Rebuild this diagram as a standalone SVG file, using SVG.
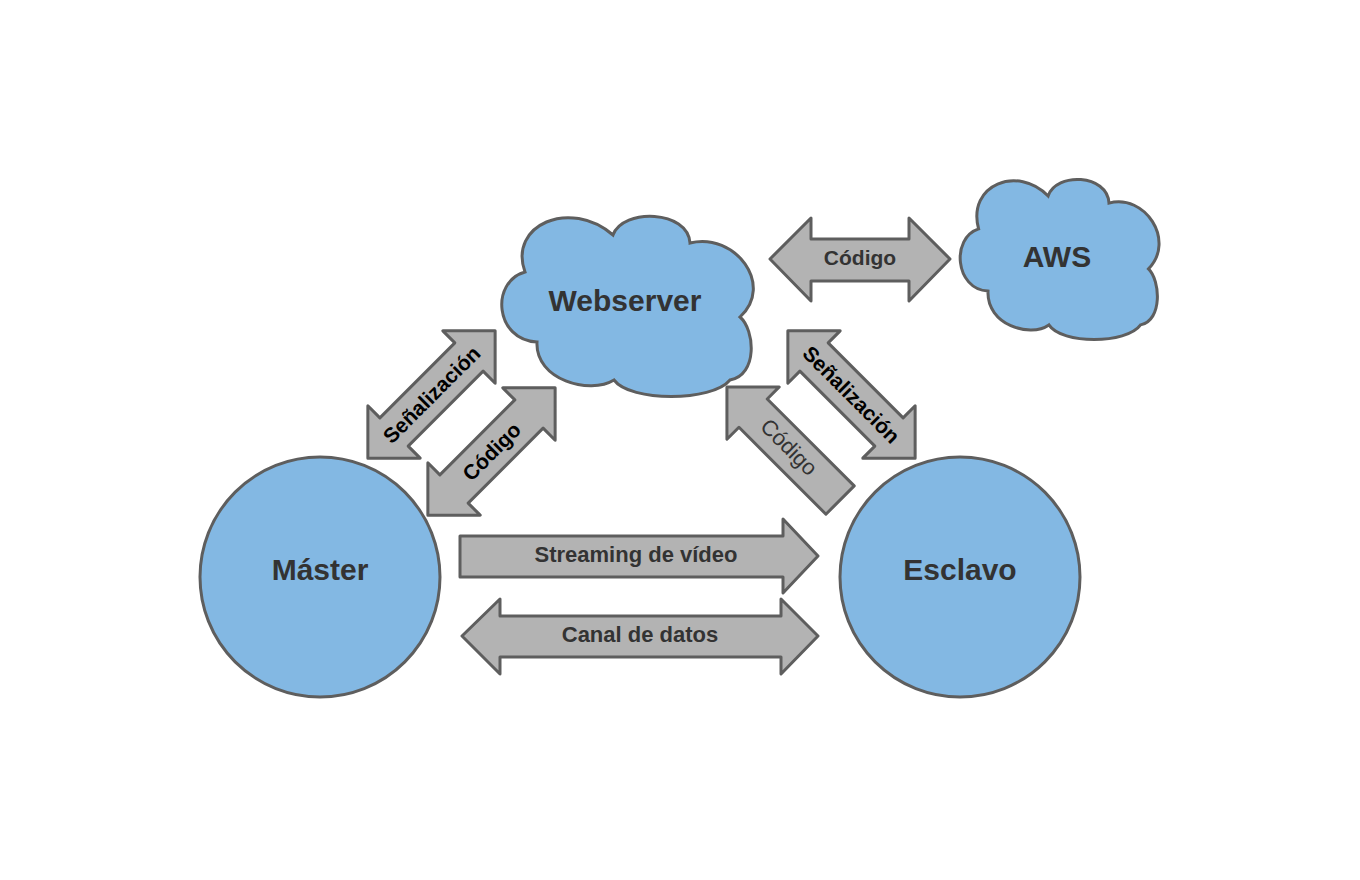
<svg xmlns="http://www.w3.org/2000/svg" width="1360" height="880" viewBox="0 0 1360 880">
<style>
.node{fill:#83b8e3;stroke:#5e5e5e;stroke-width:3}
.arr{fill:#b3b3b3;stroke:#5e5e5e;stroke-width:3;stroke-linejoin:round}
.big{font-family:"Liberation Sans",Arial,sans-serif;font-weight:bold;font-size:30px;fill:#333333;text-anchor:middle;dominant-baseline:central}
.lbl{font-family:"Liberation Sans",Arial,sans-serif;font-weight:bold;font-size:22px;fill:#333333;text-anchor:middle;dominant-baseline:central}
.dlbl{font-family:"Liberation Sans",Arial,sans-serif;font-weight:bold;font-size:21px;fill:#000000;text-anchor:middle;dominant-baseline:central}
.dlbl2{font-family:"Liberation Sans",Arial,sans-serif;font-weight:normal;font-size:22px;fill:#333333;text-anchor:middle;dominant-baseline:central}
</style>
<defs>
<path id="dbl" d="M-90,0 L-53,-37 L-53,-20 L53,-20 L53,-37 L90,0 L53,37 L53,20 L-53,20 L-53,37 Z"/>
</defs>
<rect width="1360" height="880" fill="#ffffff"/>

<g id="webserver">
<path class="node" d="M525,272 C508,225 570,198 613,235 C623,208 688,210 690,243 C735,232 775,285 740,317 C755,330 758,375 730,380 C712,402 630,402 614,380 C590,395 535,380 537,342 C495,340 490,282 525,272 Z"/>
<text class="big" x="625" y="300">Webserver</text>
</g>

<g id="aws">
<path class="node" d="M978.6,228.9 C966.7,184.4 1018.1,164.9 1048.1,196 C1056,172 1107.4,173.8 1109,203.1 C1144.6,193.3 1176.2,240.4 1148.5,268.9 C1160.4,280.4 1162.7,320.4 1140.6,324.9 C1126.4,344.4 1061.6,344.4 1048.9,324.9 C1029.9,338.2 986.5,324.9 988,291.1 C954.8,289.3 950.9,237.8 978.6,228.9 Z"/>
<text class="big" x="1057" y="256">AWS</text>
</g>

<g id="master">
<circle class="node" cx="320" cy="577" r="120"/>
<text class="big" x="320" y="569">Máster</text>
</g>

<g id="esclavo">
<circle class="node" cx="960" cy="577" r="120"/>
<text class="big" x="960" y="569">Esclavo</text>
</g>

<g id="connectors">
<g id="codigo-aws">
<path class="arr" d="M770,259 L811,218 L811,239 L909,239 L909,218 L950,259 L909,301 L909,281 L811,281 L811,301 Z"/>
<text class="lbl" x="860" y="257" style="font-size:21px">Código</text>
</g>
<g id="streaming">
<path class="arr" d="M460,536 L783,536 L783,519 L818,556 L783,593 L783,577 L460,577 Z"/>
<text class="lbl" x="636" y="554">Streaming de vídeo</text>
</g>
<g id="canal">
<path class="arr" d="M462,636 L500,599 L500,616 L781,616 L781,599 L818,636 L781,674 L781,657 L500,657 L500,674 Z"/>
<text class="lbl" x="640" y="634">Canal de datos</text>
</g>
<g id="senal-master" transform="translate(431.5,394.5) rotate(-45)">
<use href="#dbl" class="arr"/>
<text class="dlbl" x="0" y="0">Señalización</text>
</g>
<g id="codigo-master" transform="translate(491.5,451.5) rotate(-45)">
<use href="#dbl" class="arr"/>
<text class="dlbl" x="0" y="0">Código</text>
</g>
<g id="senal-esclavo" transform="translate(851.5,394.5) rotate(45)">
<use href="#dbl" class="arr"/>
<text class="dlbl" x="0" y="0">Señalización</text>
</g>
<g id="codigo-esclavo">
<path class="arr" transform="translate(783.5,443.5) rotate(-135)" d="M-80,-20 L43,-20 L43,-37 L80,0 L43,37 L43,20 L-80,20 Z"/>
<text class="dlbl2" transform="translate(789,447) rotate(45)" x="0" y="0">Código</text>
</g>
</g>
</svg>
